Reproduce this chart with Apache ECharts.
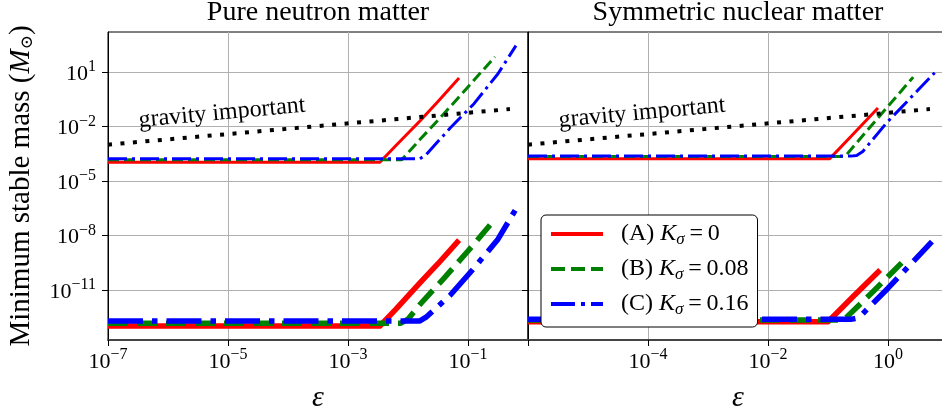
<!DOCTYPE html>
<html>
<head>
<meta charset="utf-8">
<script src="https://cdn.jsdelivr.net/npm/echarts@6/dist/echarts.min.js"></script>
<style>
  html, body { margin: 0; padding: 0; background: #fff; }
  #chart { width: 942px; height: 412px; }
</style>
</head>
<body>
<div id="chart"></div>
<script>
// Minimum stable mass (solar masses) versus epsilon, two matter types, three K_sigma cases.
// Thin curves: upper family; thick curves: lower family.
// Both axes are logarithmic: values are plotted as their base-10 exponents.

// ---- Pure neutron matter ----
const pnmEpsA = [1e-7, 3.4e-3, 6.3e-3, 1.58e-2, 3.16e-2, 7.1e-2];
const pnmUpperA = [1.07e-4, 1.07e-4, 8.9e-4, 2.0e-2, 2.4e-1, 4.7];
const pnmLowerA = [1.05e-13, 1.05e-13, 8.9e-13, 2.5e-11, 2.8e-10, 5.6e-9];

const pnmEpsB = [1e-7, 7.9e-3, 1.58e-2, 4.0e-2, 0.1, 0.28];
const pnmUpperB = [1.5e-4, 1.5e-4, 1.9e-3, 5.2e-2, 1.5, 68];
const pnmLowerEpsB = [1e-7, 7.6e-3, 1e-2, 1.58e-2, 4.0e-2, 0.1, 0.26];
const pnmLowerB = [1.5e-13, 1.5e-13, 2.5e-13, 1.6e-12, 4.5e-11, 1.4e-9, 5.8e-8];

const pnmEpsC = [1e-7, 1.58e-2, 2.0e-2, 5.0e-2, 0.126, 0.316, 0.63];
const pnmUpperC = [1.66e-4, 1.66e-4, 2.8e-4, 8.0e-3, 0.18, 8.0, 280];
const pnmLowerC = [2.0e-13, 2.0e-13, 3.2e-13, 5.0e-12, 1.6e-10, 6.3e-9, 2.9e-7];

// ---- Symmetric nuclear matter ----
const snmEpsA = [1e-6, 0.1, 0.26, 0.74];
const snmUpperEpsA = [1e-6, 0.107, 0.25, 0.68];
const snmUpperA = [1.7e-4, 1.7e-4, 3.2e-3, 0.105];
const snmLowerA = [1.8e-13, 1.8e-13, 4.3e-12, 1.26e-10];

const snmUpperEpsB = [1e-6, 0.19, 0.21, 0.68, 2.63];
const snmUpperB = [2.24e-4, 2.24e-4, 3.2e-4, 2.95e-2, 5.2];
const snmLowerEpsB = [1e-6, 0.18, 0.21, 0.6, 2.14];
const snmLowerB = [2.24e-13, 2.24e-13, 3.5e-13, 1.0e-11, 6.9e-10];

const snmUpperEpsC = [1e-6, 0.24, 0.30, 0.38, 0.95, 6.0];
const snmUpperC = [2.34e-4, 2.34e-4, 2.5e-4, 4.2e-4, 1.6e-2, 9.1];
const snmLowerEpsC = [1e-6, 0.25, 0.3, 0.38, 1.0, 5.4];
const snmLowerC = [2.5e-13, 2.5e-13, 2.8e-13, 5.0e-13, 1.26e-11, 4.6e-9];

// ---- "gravity important" boundary ----
const gravEpsPnm = [1e-7, 0.5];
const gravEpsSnm = [1e-6, 5.0];
const gravMass = [1e-3, 9.1e-2];

// ---- axes (decade exponents) ----
const yRange = [-13.75, 3.2];
const yTicks = [-11, -8, -5, -2, 1];
const xRangePnm = [-7, 0];
const xTicksPnm = [-7, -5, -3, -1, 0];
const xLabelsPnm = [-7, -5, -3, -1];
const xRangeSnm = [-6, 1];
const xTicksSnm = [-6, -4, -2, 0, 1];
const xLabelsSnm = [-4, -2, 0];
const panelTitles = ['Pure neutron matter', 'Symmetric nuclear matter'];
const legendLabels = {
  A: '(A) {i|K}{s|σ}{t|\u2009=\u20090}',
  B: '(B) {i|K}{s|σ}{t|\u2009=\u20090.08}',
  C: '(C) {i|K}{s|σ}{t|\u2009=\u20090.16}'
};

const FONT = '"Liberation Serif", "Times New Roman", serif';
const RED = '#ff0000', GREEN = '#008000', BLUE = '#0000ff';

function pow10Label(e) {
  return '{b|10}{s|' + String(Math.round(e)).replace('-', '\u2212') + '}';
}
const tickRich = {
  b: { fontFamily: FONT, fontSize: 22, lineHeight: 26, verticalAlign: 'bottom', color: '#000' },
  s: { fontFamily: FONT, fontSize: 16, lineHeight: 16, verticalAlign: 'top', color: '#000' }
};

function zipLog(xs, ys) { return xs.map((x, i) => [Math.log10(x), Math.log10(ys[i])]); }
function curve(name, panel, xs, ys, color, width, type) {
  return {
    type: 'line', name: name, xAxisIndex: panel, yAxisIndex: panel,
    data: zipLog(xs, ys), showSymbol: false, symbol: 'none', silent: true,
    animation: false, z: 2,
    itemStyle: { color: color },
    lineStyle: { color: color, width: width, type: type, cap: 'butt', join: 'round' }
  };
}

const THIN = 3, THICK = 5.5;
const dashThin = [11, 5], dashThick = [20, 9];
const dotDashThin = [19, 5, 3, 5], dotDashThick = [35, 9, 5.5, 9];
const gravDots = [4, 8.5];

const series = [
  curve('A', 0, pnmEpsA, pnmLowerA, RED, THICK, 'solid'),
  curve('B', 0, pnmLowerEpsB, pnmLowerB, GREEN, THICK, dashThick),
  curve('C', 0, pnmEpsC, pnmLowerC, BLUE, THICK, dotDashThick),
  curve('A', 0, pnmEpsA, pnmUpperA, RED, THIN, 'solid'),
  curve('B', 0, pnmEpsB, pnmUpperB, GREEN, THIN, dashThin),
  curve('C', 0, pnmEpsC, pnmUpperC, BLUE, THIN, dotDashThin),
  curve('gravity', 0, gravEpsPnm, gravMass, '#000', 4, gravDots),

  curve('A', 1, snmEpsA, snmLowerA, RED, THICK, 'solid'),
  curve('B', 1, snmLowerEpsB, snmLowerB, GREEN, THICK, dashThick),
  curve('C', 1, snmLowerEpsC, snmLowerC, BLUE, THICK, dotDashThick),
  curve('A', 1, snmUpperEpsA, snmUpperA, RED, THIN, 'solid'),
  curve('B', 1, snmUpperEpsB, snmUpperB, GREEN, THIN, dashThin),
  curve('C', 1, snmUpperEpsC, snmUpperC, BLUE, THIN, dotDashThin),
  curve('gravity', 1, gravEpsSnm, gravMass, '#000', 4, gravDots)
];

function xAxis(gridIndex, range, ticks, labels) {
  return {
    type: 'value', gridIndex: gridIndex, min: range[0], max: range[1],
    position: 'bottom',
    name: 'ε', nameLocation: 'middle', nameGap: 43,
    nameTextStyle: { fontFamily: FONT, fontSize: 30, fontStyle: 'italic', color: '#000' },
    axisLine: { show: true, onZero: false, lineStyle: { color: '#444', width: 2 } },
    axisTick: { show: true, inside: false, length: 6, customValues: ticks, lineStyle: { color: '#000', width: 1 } },
    axisLabel: { show: true, customValues: labels, margin: 7, formatter: pow10Label, rich: tickRich },
    splitLine: { show: true, lineStyle: { color: '#b0b0b0', width: 1 } },
    minorTick: { show: false }, minorSplitLine: { show: false }
  };
}

function yAxis(gridIndex, withLabels) {
  const ax = {
    type: 'value', gridIndex: gridIndex, min: yRange[0], max: yRange[1],
    axisLine: { show: true, onZero: false, lineStyle: { color: '#000', width: 1 } },
    axisTick: { show: true, inside: false, length: 6, customValues: yTicks, lineStyle: { color: '#000', width: 1 } },
    axisLabel: { show: withLabels, customValues: yTicks, margin: 12, formatter: pow10Label, rich: tickRich },
    splitLine: { show: true, lineStyle: { color: '#b0b0b0', width: 1 } },
    minorTick: { show: false }, minorSplitLine: { show: false }
  };
  if (withLabels) {
    ax.name = 'Minimum stable mass ({i|M}{o|\u2299})';
    ax.nameLocation = 'middle';
    ax.nameGap = 72;
    ax.nameTextStyle = {
      fontFamily: FONT, fontSize: 29, color: '#000',
      rich: {
        i: { fontFamily: FONT, fontSize: 29, fontStyle: 'italic', color: '#000' },
        o: { fontFamily: '"DejaVu Serif", serif', fontSize: 17, verticalAlign: 'bottom', padding: [8, 0, 0, 0], color: '#000' }
      }
    };
  }
  return ax;
}

const gridBase = {
  top: 32, width: 420, height: 308, show: true, borderColor: '#000', borderWidth: 1,
  backgroundColor: 'transparent', containLabel: false, outerBoundsMode: 'none'
};

const option = {
  backgroundColor: '#fff',
  animation: false,
  grid: [
    Object.assign({ left: 108 }, gridBase),
    Object.assign({ left: 528 }, gridBase)
  ],
  xAxis: [xAxis(0, xRangePnm, xTicksPnm, xLabelsPnm), xAxis(1, xRangeSnm, xTicksSnm, xLabelsSnm)],
  yAxis: [yAxis(0, true), yAxis(1, false)],
  legend: {
    show: true, orient: 'vertical', left: 541, top: 215, z: 20,
    padding: [5, 9, 9, 8], itemGap: 7, itemWidth: 52, itemHeight: 14,
    backgroundColor: '#fff', borderColor: '#000', borderWidth: 1, borderRadius: 5,
    selectedMode: false,
    data: [
      { name: 'A', itemStyle: { opacity: 0 }, lineStyle: { width: 4, type: 'solid', cap: 'butt' } },
      { name: 'B', itemStyle: { opacity: 0 }, lineStyle: { width: 4, type: [14, 6], cap: 'butt' } },
      { name: 'C', itemStyle: { opacity: 0 }, lineStyle: { width: 4, type: [24, 6, 4, 6], cap: 'butt' } }
    ],
    formatter: n => legendLabels[n],
    textStyle: {
      fontFamily: FONT, fontSize: 24, color: '#000', lineHeight: 28, padding: [0, 0, 0, 13],
      rich: {
        i: { fontFamily: FONT, fontSize: 24, fontStyle: 'italic', color: '#000', lineHeight: 28 },
        s: { fontFamily: FONT, fontSize: 17, fontStyle: 'italic', color: '#000', verticalAlign: 'bottom', lineHeight: 17 },
        t: { fontFamily: FONT, fontSize: 24, color: '#000', lineHeight: 28 }
      }
    }
  },
  graphic: [
    { type: 'text', x: 318, y: 13, silent: true,
      style: { text: panelTitles[0], font: '28px ' + FONT, fill: '#000', textAlign: 'center', textVerticalAlign: 'middle' } },
    { type: 'text', x: 738, y: 13, silent: true,
      style: { text: panelTitles[1], font: '28px ' + FONT, fill: '#000', textAlign: 'center', textVerticalAlign: 'middle' } },
    { type: 'text', x: 222, y: 113, rotation: 0.092, silent: true, z: 10,
      style: { text: 'gravity important', font: '24px ' + FONT, fill: '#000', textAlign: 'center', textVerticalAlign: 'middle' } },
    { type: 'text', x: 642, y: 113, rotation: 0.092, silent: true, z: 10,
      style: { text: 'gravity important', font: '24px ' + FONT, fill: '#000', textAlign: 'center', textVerticalAlign: 'middle' } }
  ],
  series: series
};

const chart = echarts.init(document.getElementById('chart'), null, { renderer: 'canvas' });
chart.setOption(option);
</script>
</body>
</html>
